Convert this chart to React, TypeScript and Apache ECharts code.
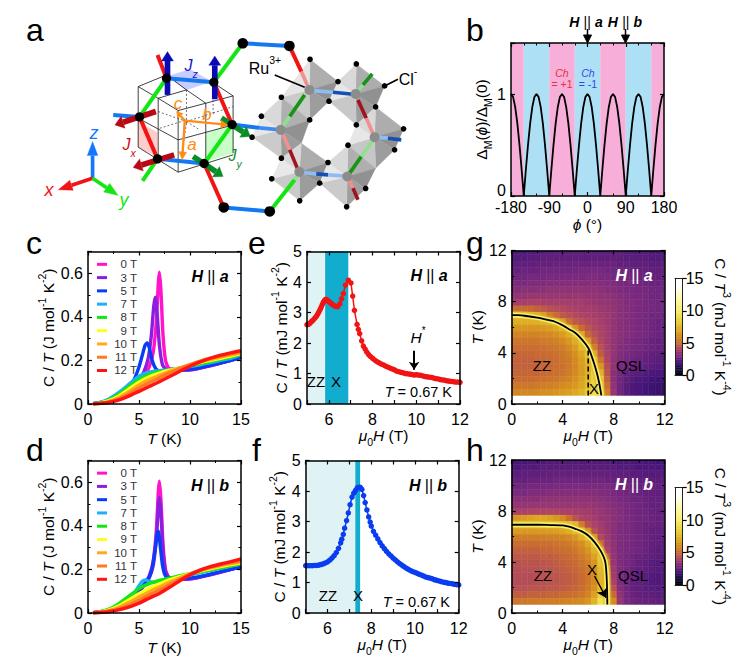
import { useEffect, useRef } from "react";
import * as echarts from "echarts";

const FONT = "Liberation Sans";

// panel b
const phiDeg = [-180,-175,-170,-165,-160,-155,-150,-145,-140,-135,-130,-125,-120,-115,-110,-105,-100,-95,-90,-85,-80,-75,-70,-65,-60,-55,-50,-45,-40,-35,-30,-25,-20,-15,-10,-5,0,5,10,15,20,25,30,35,40,45,50,55,60,65,70,75,80,85,90,95,100,105,110,115,120,125,130,135,140,145,150,155,160,165,170,175,180];
const gapRatio = [1,0.97,0.87,0.71,0.5,0.26,0,0.26,0.5,0.71,0.87,0.97,1,0.97,0.87,0.71,0.5,0.26,0,0.26,0.5,0.71,0.87,0.97,1,0.97,0.87,0.71,0.5,0.26,0,0.26,0.5,0.71,0.87,0.97,1,0.97,0.87,0.71,0.5,0.26,0,0.26,0.5,0.71,0.87,0.97,1,0.97,0.87,0.71,0.5,0.26,0,0.26,0.5,0.71,0.87,0.97,1,0.97,0.87,0.71,0.5,0.26,0,0.26,0.5,0.71,0.87,0.97,1];
const chernBands = [[-180,-150,"#f7aed8"],[-150,-90,"#aee0f5"],[-90,-30,"#f7aed8"],[-30,30,"#aee0f5"],[30,90,"#f7aed8"],[90,150,"#aee0f5"],[150,180,"#f7aed8"]];

// panels c, d
const fieldNames = ["0 T","3 T","5 T","7 T","8 T","9 T","10 T","11 T","12 T"];
const fieldColors = ["#ff14cc","#8a1fe0","#0a3cf5","#1eb0fa","#14e614","#ffff1e","#ffaa1e","#ff7828","#ff1414"];
const fanTemps = [0.5,1,2,3,4,5,6,7,8,9,10,11,12,13,14,15];

const t0a = [0.5,1,2,3,4,5,5.5,6,6.4,6.7,6.9,7,7.15,7.35,7.6,7.9,8.5,9,10,11,12,13,14,15];
const c0a = [0.001,0.004,0.012,0.03,0.06,0.1,0.13,0.17,0.24,0.38,0.56,0.605,0.52,0.32,0.2,0.165,0.157,0.155,0.156,0.165,0.175,0.188,0.2,0.215];
const t3a = [0.5,1,2,3,4,5,5.5,5.9,6.2,6.45,6.6,6.8,7,7.3,7.7,8.5,9,10,11,12,13,14,15];
const c3a = [0.001,0.004,0.013,0.032,0.062,0.11,0.15,0.21,0.31,0.45,0.49,0.4,0.27,0.18,0.158,0.155,0.155,0.157,0.165,0.176,0.188,0.2,0.215];
const t5a = [0.5,1,2,3,4,4.5,5,5.3,5.6,5.8,6,6.3,6.6,7,7.5,8.5,9,10,11,12,13,14,15];
const c5a = [0.001,0.005,0.016,0.04,0.075,0.11,0.17,0.22,0.27,0.28,0.26,0.2,0.165,0.15,0.15,0.155,0.157,0.16,0.167,0.177,0.189,0.2,0.215];
const c7a = [0.001,0.005,0.022,0.052,0.09,0.128,0.147,0.153,0.158,0.165,0.172,0.18,0.19,0.2,0.21,0.225];
const c8a = [0.001,0.004,0.018,0.044,0.08,0.113,0.135,0.148,0.156,0.165,0.175,0.185,0.195,0.205,0.215,0.228];
const c9a = [0.001,0.003,0.014,0.036,0.068,0.1,0.125,0.142,0.155,0.166,0.178,0.19,0.2,0.21,0.22,0.232];
const c10a = [0.001,0.002,0.011,0.029,0.056,0.087,0.112,0.132,0.15,0.166,0.18,0.194,0.205,0.215,0.226,0.236];
const c11a = [0.001,0.002,0.009,0.023,0.046,0.073,0.098,0.12,0.143,0.163,0.181,0.197,0.21,0.22,0.23,0.24];
const c12a = [0.001,0.002,0.007,0.018,0.036,0.058,0.08,0.102,0.126,0.15,0.173,0.193,0.21,0.224,0.235,0.245];

const t0b = [0.5,1,2,3,4,5,5.5,6,6.4,6.7,6.9,7,7.15,7.35,7.6,7.9,8.5,9,10,11,12,13,14,15];
const c0b = [0.001,0.004,0.012,0.03,0.06,0.1,0.13,0.17,0.24,0.38,0.56,0.605,0.52,0.32,0.2,0.165,0.157,0.155,0.156,0.165,0.175,0.188,0.2,0.212];
const t3b = [0.5,1,2,3,4,5,5.5,6,6.4,6.7,6.9,7,7.15,7.35,7.6,7.9,8.5,9,10,11,12,13,14,15];
const c3b = [0.001,0.004,0.012,0.03,0.06,0.1,0.125,0.16,0.22,0.34,0.49,0.53,0.46,0.29,0.19,0.165,0.157,0.155,0.157,0.165,0.176,0.188,0.2,0.213];
const t5b = [0.5,1,2,3,4,5,5.5,6,6.3,6.6,6.8,6.9,7.1,7.3,7.5,7.8,8.5,9,10,11,12,13,14,15];
const c5b = [0.001,0.004,0.013,0.032,0.065,0.105,0.13,0.165,0.21,0.3,0.37,0.375,0.3,0.22,0.18,0.16,0.157,0.157,0.16,0.168,0.178,0.19,0.2,0.214];
const t7b = [0.5,1,2,3,4,4.5,5,5.3,5.6,6,6.4,7,8,9,10,11,12,13,14,15];
const c7b = [0.001,0.004,0.012,0.03,0.065,0.09,0.125,0.145,0.152,0.145,0.141,0.145,0.155,0.165,0.175,0.185,0.195,0.205,0.215,0.226];
const c8b = [0.001,0.004,0.017,0.042,0.077,0.112,0.135,0.15,0.16,0.171,0.18,0.189,0.198,0.207,0.216,0.226];
const c9b = [0.001,0.003,0.013,0.032,0.06,0.088,0.113,0.134,0.152,0.167,0.18,0.192,0.203,0.213,0.222,0.23];
const c10b = [0.001,0.002,0.01,0.025,0.048,0.073,0.098,0.12,0.142,0.162,0.18,0.195,0.207,0.218,0.227,0.235];
const c11b = [0.001,0.002,0.008,0.019,0.036,0.058,0.083,0.105,0.13,0.155,0.178,0.197,0.21,0.222,0.232,0.24];
const c12b = [0.001,0.002,0.006,0.014,0.027,0.045,0.068,0.09,0.118,0.148,0.175,0.197,0.213,0.225,0.236,0.248];

// panel e
const fieldE = [5,5.05,5.1,5.15,5.2,5.25,5.3,5.35,5.4,5.45,5.5,5.55,5.6,5.65,5.7,5.75,5.8,5.85,5.9,5.95,6,6.05,6.1,6.15,6.2,6.3,6.4,6.5,6.58,6.66,6.76,6.89,7.01,7.09,7.17,7.29,7.35,7.41,7.5,7.58,7.66,7.74,7.82,7.9,8,8.1,8.2,8.3,8.4,8.5,8.6,8.7,8.8,8.9,9,9.1,9.2,9.3,9.4,9.5,9.6,9.7,9.8,9.9,10,10.1,10.2,10.3,10.4,10.5,10.6,10.7,10.8,10.9,11,11.1,11.2,11.3,11.4,11.5,11.6,11.7,11.8,11.9,12];
const heatE = [2.6,2.61,2.63,2.66,2.7,2.73,2.77,2.81,2.85,2.9,2.96,3.03,3.1,3.18,3.26,3.34,3.4,3.43,3.42,3.39,3.36,3.33,3.3,3.27,3.24,3.2,3.19,3.28,3.45,3.62,3.9,4.06,3.97,3.54,3.07,2.61,2.45,2.31,2.07,1.9,1.8,1.7,1.62,1.56,1.5,1.44,1.39,1.35,1.31,1.28,1.24,1.21,1.18,1.15,1.12,1.08,1.06,1.04,1.02,1,0.99,0.98,0.97,0.95,0.96,0.95,0.94,0.92,0.9,0.89,0.88,0.87,0.85,0.83,0.82,0.8,0.79,0.78,0.76,0.75,0.74,0.73,0.72,0.72,0.71];

// panel f
const fieldF = [5,5.1,5.2,5.3,5.4,5.5,5.6,5.7,5.8,5.9,6,6.1,6.2,6.3,6.4,6.5,6.6,6.65,6.72,6.78,6.87,6.95,7.03,7.12,7.2,7.28,7.36,7.43,7.5,7.57,7.65,7.72,7.8,7.88,7.95,8,8.1,8.2,8.3,8.4,8.5,8.6,8.7,8.8,8.9,9,9.1,9.2,9.3,9.4,9.5,9.6,9.7,9.8,9.9,10,10.1,10.2,10.3,10.4,10.5,10.6,10.7,10.8,10.9,11,11.1,11.2,11.3,11.4,11.5,11.6,11.7,11.8,11.9,12];
const heatF = [1.55,1.55,1.55,1.55,1.56,1.56,1.57,1.59,1.61,1.64,1.68,1.73,1.8,1.88,1.98,2.12,2.3,2.42,2.58,2.78,3.03,3.28,3.55,3.8,3.93,4.02,4.1,4.12,4.12,4.05,3.85,3.62,3.38,3.15,2.98,2.85,2.68,2.55,2.43,2.31,2.2,2.11,2.02,1.94,1.87,1.8,1.74,1.68,1.62,1.57,1.52,1.47,1.43,1.39,1.36,1.33,1.3,1.27,1.24,1.21,1.18,1.16,1.14,1.12,1.09,1.07,1.05,1.03,1.01,1,0.98,0.97,0.96,0.94,0.93,0.92];

// panels g, h: columns in tesla, rows in kelvin from the top down
const mapFields = [0,0.5,1,1.5,2,2.5,3,3.5,4,4.5,5,5.5,6,6.5,7,7.5,8,8.5,9,9.5,10,10.5,11,11.5,12];
const mapTemps = [11.92,11.42,10.92,10.42,9.92,9.42,8.92,8.42,7.92,7.42,6.92,6.42,5.92,5.42,4.92,4.42,3.92,3.42,2.92,2.42,1.92,1.42,0.92];
const mapA = [
[2.1,2.2,2.2,2.3,2.3,2.3,2.4,2.4,2.4,2.4,2.4,2.4,2.4,2.4,2.4,2.4,2.4,2.4,2.3,2.3,2.3,2.3,2.2,2.2,2.1],
[2.2,2.3,2.3,2.4,2.4,2.5,2.5,2.5,2.5,2.5,2.5,2.5,2.5,2.5,2.5,2.5,2.5,2.5,2.4,2.4,2.4,2.4,2.3,2.3,2.2],
[2.4,2.5,2.5,2.5,2.6,2.6,2.6,2.7,2.7,2.7,2.7,2.7,2.7,2.7,2.7,2.7,2.7,2.6,2.6,2.5,2.5,2.5,2.4,2.4,2.4],
[2.6,2.6,2.7,2.7,2.7,2.8,2.8,2.8,2.8,2.8,2.8,2.9,2.9,2.9,2.9,2.8,2.8,2.8,2.7,2.7,2.6,2.6,2.5,2.5,2.5],
[2.7,2.8,2.8,2.9,2.9,2.9,3,3,3,3,3,3,3.1,3.1,3,3,2.9,2.9,2.8,2.8,2.7,2.7,2.6,2.6,2.6],
[3,3,3,3.1,3.1,3.1,3.2,3.2,3.2,3.2,3.2,3.2,3.2,3.2,3.2,3.1,3.1,3,2.9,2.9,2.8,2.8,2.7,2.7,2.7],
[3.2,3.2,3.3,3.3,3.3,3.3,3.4,3.4,3.4,3.4,3.4,3.4,3.4,3.4,3.3,3.2,3.2,3.1,3,3,2.9,2.9,2.8,2.8,2.7],
[3.5,3.5,3.5,3.6,3.6,3.6,3.6,3.6,3.6,3.6,3.6,3.6,3.5,3.5,3.4,3.4,3.3,3.2,3.1,3,3,2.9,2.8,2.8,2.8],
[3.9,3.9,3.9,4,4,3.9,3.9,3.9,3.9,3.9,3.8,3.8,3.7,3.6,3.5,3.5,3.4,3.3,3.1,3.1,3,2.9,2.9,2.8,2.8],
[5,5,5,5,4.8,4.6,4.4,4.3,4.2,4.1,4,3.9,3.9,3.8,3.7,3.6,3.5,3.3,3.2,3.1,3,2.9,2.9,2.8,2.8],
[8.6,8.6,8.4,8,7.4,6.6,5.6,5,4.6,4.4,4.2,4.1,4,3.9,3.8,3.7,3.5,3.3,3.2,3.1,3,2.9,2.8,2.8,2.7],
[7.2,7.2,7.2,7.2,7.3,7.5,7.9,8.2,6.6,5.2,4.6,4.4,4.2,4.1,3.9,3.7,3.5,3.3,3.2,3.1,3,2.9,2.8,2.7,2.7],
[6.4,6.4,6.4,6.4,6.4,6.5,6.7,7,7.6,8.2,6.2,5,4.5,4.2,4,3.8,3.5,3.3,3.2,3.1,3,2.9,2.8,2.7,2.7],
[5.8,5.8,5.8,5.8,5.8,5.9,6,6.2,6.6,7.2,8.2,7,5,4.4,4.1,3.8,3.5,3.3,3.2,3.1,3,2.9,2.8,2.7,2.6],
[5.4,5.4,5.4,5.4,5.4,5.5,5.6,5.7,6,6.5,7.2,8.3,6.6,4.8,4.2,3.8,3.5,3.3,3.1,3,2.9,2.8,2.7,2.6,2.6],
[5.1,5.1,5.1,5.1,5.1,5.2,5.3,5.4,5.6,6,6.6,7.6,8.4,5.6,4.4,3.9,3.5,3.2,3.1,3,2.9,2.8,2.7,2.6,2.5],
[4.9,4.9,4.9,4.9,5,5,5.1,5.2,5.4,5.7,6.2,7,8.2,7,4.7,4,3.5,3.2,3,2.9,2.8,2.7,2.6,2.5,2.4],
[4.8,4.8,4.8,4.8,4.9,4.9,5,5.1,5.3,5.5,6,6.7,7.6,8.4,5.4,4.1,3.4,3.1,2.9,2.8,2.7,2.6,2.5,2.4,2.3],
[4.8,4.8,4.8,4.8,4.8,4.9,5,5.1,5.2,5.5,5.9,6.6,7.4,8.6,6.4,4.3,3.4,3,2.8,2.7,2.6,2.5,2.4,2.3,2.2],
[4.9,4.9,4.9,4.9,4.9,5,5.1,5.2,5.3,5.6,6,6.6,7.4,8.6,7.4,4.5,3.3,2.9,2.6,2.5,2.4,2.3,2.2,2.1,2],
[5,5,5,5,5.1,5.2,5.3,5.4,5.6,5.8,6.2,6.8,7.6,8.6,8.4,4.8,3.3,2.8,2.5,2.3,2.2,2.1,2,1.9,1.8],
[5.4,5.4,5.4,5.4,5.5,5.6,5.7,5.8,6,6.2,6.5,7,7.8,8.8,9,5.2,3.4,2.8,2.4,2.2,2.1,2,1.9,1.8,1.6],
[5.9,5.9,5.9,5.9,6,6.1,6.2,6.3,6.5,6.7,7,7.4,8.2,9.2,9.6,5.6,3.6,2.8,2.4,2.2,2.1,2,1.9,1.8,1.6],
];
const mapB = [
[2,2.1,2.1,2.2,2.2,2.2,2.3,2.3,2.3,2.3,2.3,2.3,2.3,2.3,2.3,2.3,2.2,2.2,2.2,2.2,2.1,2.1,2.1,2,2],
[2.2,2.2,2.3,2.3,2.3,2.4,2.4,2.4,2.4,2.4,2.4,2.4,2.4,2.4,2.4,2.4,2.4,2.3,2.3,2.3,2.2,2.2,2.2,2.1,2.1],
[2.4,2.4,2.5,2.5,2.5,2.5,2.6,2.6,2.6,2.6,2.6,2.6,2.6,2.6,2.6,2.6,2.5,2.5,2.5,2.4,2.4,2.3,2.3,2.3,2.2],
[2.6,2.6,2.6,2.7,2.7,2.7,2.7,2.8,2.8,2.8,2.8,2.8,2.8,2.8,2.8,2.7,2.7,2.7,2.6,2.6,2.5,2.5,2.4,2.4,2.4],
[2.8,2.8,2.8,2.9,2.9,2.9,2.9,3,3,3,3,3,3,3,3,3,2.9,2.8,2.8,2.7,2.6,2.6,2.5,2.5,2.5],
[3,3,3,3.1,3.1,3.1,3.2,3.2,3.2,3.2,3.2,3.2,3.2,3.2,3.1,3.1,3,2.9,2.8,2.8,2.7,2.6,2.6,2.5,2.5],
[3.3,3.3,3.3,3.3,3.3,3.4,3.4,3.4,3.4,3.4,3.4,3.4,3.4,3.3,3.3,3.2,3.1,3,2.9,2.8,2.8,2.7,2.6,2.6,2.5],
[3.5,3.5,3.5,3.6,3.6,3.6,3.6,3.6,3.6,3.6,3.6,3.6,3.6,3.5,3.4,3.3,3.2,3.1,3,2.9,2.8,2.7,2.6,2.6,2.6],
[4,4,4,4.1,4.1,4.1,4.1,4.1,4,4,3.9,3.9,3.8,3.7,3.6,3.4,3.3,3.2,3,2.9,2.8,2.8,2.7,2.6,2.6],
[6.2,6.4,6.6,6.8,7,7,6.8,6.4,6,5.2,4.4,4.1,4,3.8,3.6,3.5,3.3,3.2,3,2.9,2.8,2.8,2.7,2.6,2.6],
[8.4,8.6,8.8,8.8,8.8,8.8,8.8,8.8,8.8,8.6,7.6,5.6,4.4,4,3.8,3.5,3.3,3.1,3,2.9,2.8,2.7,2.7,2.6,2.6],
[6.6,6.6,6.5,6.5,6.5,6.5,6.6,6.7,6.9,7.2,8,8.6,6.2,4.4,3.9,3.6,3.3,3.1,3,2.9,2.8,2.7,2.6,2.6,2.5],
[5.6,5.6,5.6,5.6,5.6,5.6,5.7,5.7,5.8,6,6.4,7.2,8.4,6.2,4.2,3.7,3.3,3.1,3,2.9,2.8,2.7,2.6,2.5,2.5],
[5.1,5.1,5.1,5.1,5.1,5.2,5.2,5.3,5.4,5.5,5.8,6.2,7,8.4,5.2,3.8,3.4,3.1,3,2.9,2.8,2.7,2.6,2.5,2.4],
[4.8,4.8,4.8,4.8,4.8,4.9,4.9,5,5.1,5.2,5.4,5.8,6.4,7.4,7.4,4,3.4,3.1,3,2.9,2.8,2.7,2.5,2.4,2.4],
[4.6,4.6,4.6,4.6,4.6,4.7,4.7,4.8,4.9,5,5.2,5.5,6,6.8,8.2,4.6,3.5,3.1,2.9,2.8,2.7,2.6,2.5,2.4,2.3],
[4.4,4.4,4.5,4.5,4.5,4.5,4.6,4.7,4.8,4.9,5,5.3,5.7,6.4,8,5.6,3.6,3.1,2.9,2.8,2.6,2.5,2.4,2.3,2.3],
[4.3,4.3,4.4,4.4,4.4,4.5,4.5,4.6,4.7,4.8,4.9,5.1,5.5,6.2,7.6,6.4,3.7,3.1,2.9,2.7,2.6,2.5,2.4,2.3,2.2],
[4.3,4.3,4.3,4.3,4.4,4.4,4.5,4.5,4.6,4.7,4.8,5,5.4,6,7.4,7,3.8,3.1,2.8,2.7,2.5,2.4,2.3,2.2,2.2],
[4.3,4.3,4.3,4.3,4.4,4.4,4.5,4.5,4.6,4.7,4.8,5,5.4,6,7.4,7.4,4,3.1,2.8,2.6,2.5,2.4,2.3,2.2,2.2],
[4.4,4.4,4.4,4.5,4.5,4.5,4.6,4.6,4.7,4.8,4.9,5.1,5.5,6.2,7.8,8.4,4.4,3.2,2.8,2.6,2.5,2.4,2.4,2.3,2.3],
[4.7,4.7,4.7,4.8,4.8,4.8,4.9,4.9,5,5.1,5.2,5.4,5.8,6.8,8.6,9.2,5,3.4,2.9,2.7,2.6,2.5,2.5,2.4,2.4],
[5.4,5.4,5.4,5.5,5.5,5.5,5.6,5.6,5.7,5.8,5.9,6,6.4,7.4,9.4,10,6,3.6,3,2.8,2.7,2.6,2.6,2.5,2.5],
];
const edgeFieldA = [0,0.5,1,2,3,3.4,4,4.5,5,5.5,6,6.25,6.5,6.7,6.87,7.03];
const edgeTempA = [6.95,6.94,6.9,6.75,6.53,6.43,6.15,5.85,5.55,5.05,4.4,3.8,3.05,2.35,1.6,0.67];
const edgeFieldB = [0,1,2,3,4,4.5,5,5.5,6,6.5,7,7.33,7.45,7.5];
const edgeTempB = [6.92,6.92,6.92,6.9,6.87,6.77,6.6,6.4,6.08,5.56,4.83,4.05,2.74,0.67];
const heatColors = ["#000000","#140b3c","#431478","#7a2a7e","#ab4068","#c86a32","#d48a20","#dca820","#e4c430","#eeda48","#f6ec68","#faf48c","#fcf8b0","#fefcd8","#ffffff","#ffffff"];

// panel a: schematic drawn in 3x page units
const clDots = [[931,178],[1070,192],[1015,245],[1155,258],[845,292],[988,304],[1128,321],[785,349],[930,360],[1070,375],[1212,387],[757,412],[1045,436],[1185,450],[845,475],[985,488],[816,537],[960,550],[1098,566],[900,603],[1041,621]];
const ruSites = [[929,270],[1068,282],[843,390],[1125,412],[899,516],[1043,530]];
const octaHulls = [
  [[931,178],[1015,245],[988,304],[930,360],[845,292]],
  [[1070,192],[1155,258],[1128,321],[1070,375],[988,304],[1015,245]],
  [[845,292],[930,360],[905,430],[845,475],[757,412],[785,349]],
  [[1128,321],[1212,387],[1185,450],[1128,505],[1045,436],[1070,375]],
  [[905,430],[985,488],[960,550],[900,603],[816,537],[845,475]],
  [[1045,436],[1128,505],[1098,566],[1041,621],[960,550],[985,488]],
];
const bondsBlue = [[500,235,642,247],[729,130,869,138],[672,623,810,635],[340,345,419,351],[473,477,613,491],[697,374,780,384]];
const bondsGreen = [[642,247,729,130],[500,235,419,351],[473,477,428,543],[697,374,613,491],[810,635,885,540]];
const bondsRed = [[473,165,500,235],[642,247,697,374],[419,351,473,477],[613,491,672,623],[869,138,905,215]];
const bondsInside = [
  [780,384,843,390,"#3c8cf0"],[905,215,929,270,"#f09090"],[942,272,1000,277,"#90bcf5"],[1000,277,1060,283,"#1450b4"],
  [1075,300,1100,355,"#a01420"],[1100,355,1125,412,"#f09090"],[915,285,870,350,"#149614"],[870,350,843,390,"#90e090"],
  [850,405,870,450,"#f09090"],[870,450,895,510,"#a01420"],[910,518,950,522,"#90bcf5"],[950,522,985,525,"#1450b4"],[985,525,1030,528,"#90bcf5"],
  [1050,520,1085,470,"#149614"],[1085,470,1120,420,"#90e090"],[1043,530,1060,565,"#f09090"],[1060,565,1075,600,"#a01420"],
  [1125,412,1165,415,"#90bcf5"],[1165,415,1205,420,"#1450b4"],[1068,282,1090,255,"#90e090"],[1090,255,1118,222,"#149614"],[885,540,899,516,"#90e090"],
];
const cubeLines = [
  [415,260,500,225],[500,225,560,270],[415,260,475,295],[475,295,535,332],[535,332,618,310],[618,310,700,288],[700,288,635,245],[475,295,560,270],[560,270,618,310],
  [415,260,415,442],[535,332,535,517],[700,288,700,460],[475,295,475,475],[618,310,618,485],[415,442,535,517],[535,517,700,465],[415,355,535,420],[535,420,700,375],
];
const cubeDashed = [[560,270,560,370],[475,335,560,365],[560,365,700,320],[480,385,560,360],[560,365,600,390],[560,370,545,470],[640,300,640,345]];

const RICH: any = {
  n: { fontFamily: FONT, fontSize: 15.5, verticalAlign: "bottom", lineHeight: 20 },
  i: { fontFamily: FONT, fontSize: 15.5, fontStyle: "italic", verticalAlign: "bottom", lineHeight: 20 },
  s: { fontFamily: FONT, fontSize: 10.5, verticalAlign: "top", lineHeight: 20 },
  N: { fontFamily: FONT, fontSize: 15.5, verticalAlign: "top", lineHeight: 20 },
  I: { fontFamily: FONT, fontSize: 15.5, fontStyle: "italic", verticalAlign: "top", lineHeight: 20 },
  d: { fontFamily: FONT, fontSize: 10.5, verticalAlign: "bottom", lineHeight: 20 },
};
const FIELD_NAME = "{I|μ}{d|0}{I|H}{N| (T)}";
const HEAT_NAME = "{n|C / }{i|T}{n| (mJ mol}{s|-1}{n| K}{s|-2}{n|)}";
const SPEC_NAME = "{n|C / }{i|T}{n| (J mol}{s|-1}{n| K}{s|-2}{n|)}";
const TEMP_NAME = "{n|}{i|T}{n| (K)}";
const CBAR_NAME = "{n|C / }{i|T}{s|3}{n| (mJ mol}{s|-1}{n| K}{s|-4}{n|)}";

const xAxes: any[] = [];
const yAxes: any[] = [];
const grids: any[] = [];

type AxisCfg = { min: number; max: number; interval: number; minor?: number; name: string; gap: number; labels?: (v: number) => string };

function axisBase(cfg: AxisCfg, gridIndex: number, position: string, main: boolean, rotate?: number) {
  return {
    type: "value",
    gridIndex,
    position,
    min: cfg.min,
    max: cfg.max,
    interval: cfg.interval,
    z: 6,
    name: main ? cfg.name : "",
    nameLocation: "middle",
    nameGap: cfg.gap,
    nameRotate: rotate,
    nameTextStyle: { rich: RICH, color: "#000", fontFamily: FONT, fontSize: 15.5 },
    axisLine: { show: true, onZero: false, lineStyle: { color: "#000", width: 1.5 } },
    axisTick: { show: true, inside: true, length: 4, lineStyle: { color: "#000", width: 1.2 } },
    minorTick: { show: !!cfg.minor, splitNumber: cfg.minor || 2, length: 2.5, lineStyle: { color: "#000", width: 1 } },
    splitLine: { show: false },
    minorSplitLine: { show: false },
    axisLabel: {
      show: main,
      margin: 5,
      fontFamily: FONT,
      fontSize: 16,
      color: "#000",
      showMaxLabel: cfg.labels ? undefined : cfg.max % cfg.interval === 0,
      formatter: cfg.labels,
    },
  };
}

// every panel gets a closed frame: one labelled axis and one mirrored axis per direction
function addPanel(left: number, top: number, width: number, height: number, x: AxisCfg, y: AxisCfg) {
  const gridIndex = grids.length;
  grids.push({ left, top, width, height, containLabel: false });
  const xi = xAxes.length;
  const yi = yAxes.length;
  const xMain: any = axisBase(x, gridIndex, "bottom", true);
  xMain.axisLabel.margin = 7;
  xAxes.push(xMain, axisBase(x, gridIndex, "top", false));
  yAxes.push(axisBase(y, gridIndex, "left", true, 90), axisBase(y, gridIndex, "right", false));
  return { xAxisIndex: xi, yAxisIndex: yi };
}

function pairs(xs: number[], ys: number[]) {
  return xs.map((v, i) => [v, ys[i]]);
}

function cellItem(_: any, api: any) {
  const p0 = api.coord([api.value(0), api.value(3)]);
  const p1 = api.coord([api.value(1), api.value(2)]);
  const fill = api.visual("color");
  return {
    type: "rect",
    shape: { x: p0[0], y: p0[1], width: p1[0] - p0[0], height: p1[1] - p0[1] },
    style: { fill, stroke: fill, lineWidth: 0.5 },
  };
}

function mapCells(rows: number[][]) {
  const cells: number[][] = [];
  rows.forEach((row, r) => {
    row.forEach((v, c) => {
      const h = mapFields[c];
      const t = mapTemps[r];
      cells.push([Math.max(h - 0.25, 0), Math.min(h + 0.25, 12), t - 0.25, Math.min(t + 0.25, 12), v]);
    });
  });
  return cells;
}

function colorBarCells() {
  const cells: number[][] = [];
  for (let v = 0; v < 15; v += 0.25) cells.push([0, 1, v, v + 0.25, v + 0.125]);
  return cells;
}

function fanSeries(ax: any, lists: number[][][]) {
  return lists.map((pts, i) => ({
    ...ax,
    name: fieldNames[i],
    type: "line",
    data: pts,
    smooth: 0.2,
    showSymbol: false,
    z: 3,
    color: fieldColors[i],
    itemStyle: { color: fieldColors[i] },
    lineStyle: { color: fieldColors[i], width: 3.4 },
  }));
}

function fanLegend(top: number) {
  return {
    orient: "vertical",
    left: 97,
    top,
    padding: 0,
    itemGap: 0,
    itemWidth: 10,
    itemHeight: 3,
    icon: "rect",
    selectedMode: false,
    data: fieldNames,
    formatter: (n: string) => `{a|${n}}`,
    textStyle: {
      rich: { a: { width: 25, align: "right", fontFamily: FONT, fontSize: 11.5, color: "#333", height: 13.27, lineHeight: 13.27 } },
    },
  };
}

function bands(list: any[]) {
  return {
    silent: true,
    data: list.map((b) => [{ xAxis: b[0], itemStyle: { color: b[2], opacity: 1 } }, { xAxis: b[1] }]),
  };
}

function scanSeries(ax: any, xs: number[], ys: number[], color: string, band: any[]) {
  return {
    ...ax,
    type: "line",
    data: pairs(xs, ys),
    symbol: "circle",
    symbolSize: 5.5,
    z: 3,
    itemStyle: { color },
    lineStyle: { color, width: 1.5 },
    markArea: bands(band),
  };
}

function colorBar(top: number) {
  const gridIndex = grids.length;
  grids.push({ left: 675, top, width: 7.7, height: 97.4 });
  const xi = xAxes.length;
  const yi = yAxes.length;
  const frameX = (position: string) => ({
    type: "value", gridIndex, position, min: 0, max: 1, z: 6,
    axisLine: { show: true, onZero: false, lineStyle: { color: "#222", width: 1 } },
    axisTick: { show: false }, axisLabel: { show: false }, splitLine: { show: false },
  });
  xAxes.push(frameX("bottom"), frameX("top"));
  yAxes.push({
    type: "value", gridIndex, position: "right", min: 0, max: 15, interval: 5, z: 6,
    name: CBAR_NAME, nameLocation: "middle", nameRotate: -90, nameGap: 30,
    nameTextStyle: { rich: RICH, color: "#000", fontFamily: FONT, fontSize: 15.5 },
    axisLine: { show: true, onZero: false, lineStyle: { color: "#222", width: 1 } },
    axisTick: { show: true, length: 4, lineStyle: { color: "#000", width: 1.2 } },
    axisLabel: { margin: 3, fontFamily: FONT, fontSize: 16, color: "#000" },
    splitLine: { show: false },
  });
  yAxes.push({
    type: "value", gridIndex, position: "left", min: 0, max: 15, z: 6,
    axisLine: { show: true, onZero: false, lineStyle: { color: "#222", width: 1 } },
    axisTick: { show: false }, axisLabel: { show: false }, splitLine: { show: false },
  });
  return { xAxisIndex: xi, yAxisIndex: yi };
}

function heatSeries(ax: any, data: number[][]) {
  return { ...ax, type: "custom", renderItem: cellItem, data, clip: true, progressive: 0, z: 1, silent: true, encode: { x: [0, 1], y: [2, 3] } };
}

function edgeSeries(ax: any, fx: number[], ty: number[]) {
  const data = pairs(fx, ty);
  const line = (color: string, width: number, opacity: number, z: number) => ({
    ...ax, type: "line", data, smooth: 0.3, showSymbol: false, z,
    lineStyle: { color, width, opacity, cap: "butt" },
  });
  return [line("#e2b42c", 9, 0.5, 2), line("#f8ee6c", 5, 1, 2), line("#000000", 1.8, 1, 3)];
}

// graphic helpers
function txt(x: number, y: number, text: string, opts: any = {}) {
  return {
    type: "text", x, y, z: 100, silent: true,
    style: { text, fontFamily: FONT, fontSize: 15, fill: "#000", textAlign: "center", textVerticalAlign: "middle", ...opts },
  };
}
function boldTag(x: number, y: number, axis: string, fill: string, size = 16) {
  return txt(x, y, `{h|H} {m|||} {h|${axis}}`, {
    fill,
    rich: {
      h: { fontFamily: FONT, fontSize: size, fontWeight: "bold", fontStyle: "italic", fill },
      m: { fontFamily: FONT, fontSize: size, fill },
    },
  });
}
function panelLetter(x: number, y: number, text: string) {
  return txt(x, y, text, { fontSize: 32, textAlign: "left", textVerticalAlign: "bottom" });
}
function seg(s: number[], stroke: string, lineWidth: number, extra: any = {}) {
  return { type: "line", z: 100, silent: true, shape: { x1: s[0], y1: s[1], x2: s[2], y2: s[3] }, style: { stroke, lineWidth, ...extra } };
}
function poly(points: number[][], fill: string) {
  return { type: "polygon", z: 100, silent: true, shape: { points }, style: { fill, stroke: fill, lineWidth: 1 } };
}
function dot(x: number, y: number, r: number, fill = "#000") {
  return { type: "circle", z: 100, silent: true, shape: { cx: x, cy: y, r }, style: { fill } };
}
function arrow(x0: number, y0: number, x1: number, y1: number, color: string, w: number, hl: number, hw: number) {
  const d = Math.hypot(x1 - x0, y1 - y0);
  const ux = (x1 - x0) / d;
  const uy = (y1 - y0) / d;
  const bx = x1 - ux * hl;
  const by = y1 - uy * hl;
  return [
    seg([x0, y0, bx, by], color, w),
    poly([[x1, y1], [bx - uy * hw, by + ux * hw], [bx + uy * hw, by - ux * hw]], color),
  ];
}

// facets of one octahedron: lit from the upper left, darker towards the lower right
function octaFacets(center: number[], hull: number[][]) {
  return hull.map((p, i) => {
    const q = hull[(i + 1) % hull.length];
    const dx = (p[0] + q[0]) / 2 - center[0];
    const dy = (p[1] + q[1]) / 2 - center[1];
    const len = Math.hypot(dx, dy);
    const g = Math.round(188 - (42 * dx) / len - (14 * dy) / len);
    return poly([p, q, center], `rgb(${g},${g},${g})`);
  });
}

function schematic() {
  const kids: any[] = [];
  kids.push(poly([[502,230],[560,270],[635,245],[570,208]], "#c8ccff"));
  kids.push(poly([[415,365],[472,398],[472,470],[415,442]], "#ffcccc"));
  kids.push(poly([[618,400],[700,372],[700,460],[618,485]], "#c8ffc8"));
  cubeLines.forEach((s) => kids.push(seg(s, "#111", 2.4)));
  cubeDashed.forEach((s) => kids.push(seg(s, "#222", 2, { lineDash: [6, 6] })));
  octaHulls.forEach((hull, i) => kids.push(...octaFacets(ruSites[i], hull)));
  bondsBlue.forEach((s) => kids.push(seg(s, "#1478f0", 12)));
  bondsGreen.forEach((s) => kids.push(seg(s, "#14e614", 12)));
  bondsRed.forEach((s) => kids.push(seg(s, "#f01414", 12)));
  bondsInside.forEach((b) => kids.push(seg(b.slice(0, 4) as number[], b[4] as string, 11)));
  kids.push(...arrow(468, 335, 345, 375, "#b80a14", 17, 26, 19));
  kids.push(...arrow(523, 465, 400, 503, "#b80a14", 17, 26, 19));
  kids.push(...arrow(665, 355, 752, 410, "#0a8c28", 17, 26, 19));
  kids.push(...arrow(580, 470, 670, 530, "#0a8c28", 17, 26, 19));
  kids.push(...arrow(503, 285, 503, 155, "#0a0ab4", 17, 28, 18));
  kids.push(...arrow(645, 298, 645, 168, "#0a0ab4", 17, 28, 18));
  kids.push(...arrow(278, 535, 278, 425, "#1478ff", 11, 42, 16));
  kids.push(...arrow(278, 535, 175, 570, "#f01414", 11, 42, 16));
  kids.push(...arrow(278, 535, 355, 587, "#14e614", 11, 42, 16));
  kids.push(...arrow(555, 362, 530, 335, "#ff8c14", 7, 18, 11));
  kids.push(...arrow(555, 362, 685, 375, "#ff8c14", 7, 22, 12));
  kids.push(...arrow(555, 362, 547, 480, "#ff8c14", 7, 24, 12));
  kids.push(seg([825, 225, 915, 262], "#000", 5), seg([1155, 258, 1195, 238], "#000", 5));
  clDots.forEach(([x, y]) => kids.push(dot(x, y, 8.5)));
  ruSites.forEach((c) => kids.push(dot(c[0], c[1], 15, "#8c8c8c")));
  [[500,235],[642,247],[419,351],[697,374],[473,477],[613,491]].forEach(([x, y]) => kids.push(dot(x, y, 14)));
  [[729,130],[869,138],[672,623],[810,635]].forEach(([x, y]) => kids.push(dot(x, y, 16)));
  return { type: "group", z: 100, scaleX: 1 / 3, scaleY: 1 / 3, children: kids };
}

function subLabel(x: number, y: number, base: string, tail: string, fill: string, mode: "sup" | "sub") {
  return txt(x, y, `{b|${base}}{t|${tail}}`, {
    fill,
    rich: {
      b: { fontFamily: FONT, fontSize: 16, fontStyle: base === "Ru" || base === "Cl" ? "normal" : "italic", fill, verticalAlign: mode === "sup" ? "bottom" : "top", lineHeight: 22 },
      t: { fontFamily: FONT, fontSize: 10.5, fontStyle: mode === "sup" ? "normal" : "italic", fill, verticalAlign: mode === "sup" ? "top" : "bottom", lineHeight: 22 },
    },
  });
}

function buildOption() {
  grids.length = 0;
  xAxes.length = 0;
  yAxes.length = 0;

  const axB = addPanel(511, 43, 153, 153,
    { min: -180, max: 180, interval: 90, minor: 3, name: "{I|ϕ}{N| (°)}", gap: 18 },
    { min: 0, max: 1.5, interval: 1, name: "{N|Δ}{d|M}{N|(}{I|ϕ}{N|)/Δ}{d|M}{N|(0)}", gap: 14, labels: (v) => (v > 1 ? "" : String(v)) });
  xAxes[axB.xAxisIndex].axisLabel.margin = 3.5;
  yAxes[axB.yAxisIndex].axisLabel.verticalAlignMinLabel = "bottom";
  yAxes[axB.yAxisIndex].axisLabel.lineHeight = 12;
  const axC = addPanel(88, 251.5, 153, 152.5,
    { min: 0, max: 15, interval: 5, minor: 2, name: TEMP_NAME, gap: 22 },
    { min: 0, max: 0.7, interval: 0.2, minor: 2, name: SPEC_NAME, gap: 28 });
  const axD = addPanel(88, 460.5, 153, 152.5,
    { min: 0, max: 15, interval: 5, minor: 2, name: TEMP_NAME, gap: 22 },
    { min: 0, max: 0.7, interval: 0.2, minor: 2, name: SPEC_NAME, gap: 28 });
  const oddHidden = (v: number) => (v % 2 === 0 ? String(v) : "");
  const axE = addPanel(307, 251.5, 153, 152.5,
    { min: 5, max: 12, interval: 1, name: FIELD_NAME, gap: 22, labels: oddHidden },
    { min: 0, max: 5, interval: 1, name: HEAT_NAME, gap: 16 });
  const axF = addPanel(305.7, 460.5, 153, 152.5,
    { min: 5, max: 12, interval: 1, name: FIELD_NAME, gap: 22, labels: oddHidden },
    { min: 0, max: 5, interval: 1, name: HEAT_NAME, gap: 16 });
  const axG = addPanel(511.7, 250.5, 153, 153.5,
    { min: 0, max: 12, interval: 4, minor: 2, name: FIELD_NAME, gap: 22 },
    { min: 0, max: 12, interval: 4, minor: 2, name: TEMP_NAME, gap: 20 });
  const axH = addPanel(511.7, 460, 153, 153,
    { min: 0, max: 12, interval: 4, minor: 2, name: FIELD_NAME, gap: 22 },
    { min: 0, max: 12, interval: 4, minor: 2, name: TEMP_NAME, gap: 20 });
  const axBarG = colorBar(278.3);
  const axBarH = colorBar(487.7);

  const heat = [
    heatSeries(axG, mapCells(mapA)),
    heatSeries(axH, mapCells(mapB)),
    heatSeries(axBarG, colorBarCells()),
    heatSeries(axBarH, colorBarCells()),
  ];

  const fanA = [pairs(t0a, c0a), pairs(t3a, c3a), pairs(t5a, c5a), pairs(fanTemps, c7a), pairs(fanTemps, c8a), pairs(fanTemps, c9a), pairs(fanTemps, c10a), pairs(fanTemps, c11a), pairs(fanTemps, c12a)];
  const fanB = [pairs(t0b, c0b), pairs(t3b, c3b), pairs(t5b, c5b), pairs(t7b, c7b), pairs(fanTemps, c8b), pairs(fanTemps, c9b), pairs(fanTemps, c10b), pairs(fanTemps, c11b), pairs(fanTemps, c12b)];

  const series: any[] = [
    ...heat,
    {
      ...axB, type: "line", data: pairs(phiDeg, gapRatio), showSymbol: false, z: 3,
      lineStyle: { color: "#000", width: 1.8 }, markArea: bands(chernBands),
    },
    ...fanSeries(axC, fanA),
    ...fanSeries(axD, fanB),
    scanSeries(axE, fieldE, heatE, "#f01414", [[5, 5.83, "#dff2f4"], [5.83, 6.89, "#12acce"]]),
    scanSeries(axF, fieldF, heatF, "#0a3cf0", [[5, 7.27, "#dff2f4"], [7.27, 7.49, "#12acce"]]),
    ...edgeSeries(axG, edgeFieldA, edgeTempA),
    ...edgeSeries(axH, edgeFieldB, edgeTempB),
    {
      ...axG, type: "line", data: [[6, 0.67], [6, 4.4]], showSymbol: false, z: 3,
      lineStyle: { color: "#000", width: 1.6, type: [5, 3] },
    },
    {
      ...axH, type: "line", data: [], z: 3,
      markLine: {
        silent: true, symbol: ["none", "arrow"], symbolSize: 9, label: { show: false },
        lineStyle: { color: "#000", width: 1.4, type: "solid" },
        data: [[{ coord: [6.5, 2.9] }, { coord: [7.4, 1.2] }]],
      },
    },
    {
      ...axE, type: "line", data: [], z: 4,
      markLine: {
        silent: true, symbol: ["none", "arrow"], symbolSize: 8, label: { show: false },
        lineStyle: { color: "#000", width: 2, type: "solid" },
        data: [[{ coord: [9.9, 1.75] }, { coord: [9.9, 1.12] }]],
      },
    },
  ];

  const rich = {
    h: { fontFamily: FONT, fontSize: 15.5, fontStyle: "italic", verticalAlign: "bottom", lineHeight: 20 },
    t: { fontFamily: FONT, fontSize: 10, verticalAlign: "top", lineHeight: 20 },
  };

  const graphic = [
    schematic(),
    panelLetter(26, 46, "a"), panelLetter(466, 46, "b"), panelLetter(26, 259, "c"), panelLetter(26, 466, "d"),
    panelLetter(248, 259, "e"), panelLetter(252, 466, "f"), panelLetter(466, 259, "g"), panelLetter(466, 466, "h"),
    // panel a texts
    txt(94, 133, "z", { fontStyle: "italic", fontSize: 18, fill: "#1478ff" }),
    txt(49, 190, "x", { fontStyle: "italic", fontSize: 18, fill: "#f01414" }),
    txt(124, 200, "y", { fontStyle: "italic", fontSize: 18, fill: "#14e614" }),
    txt(178, 103, "c", { fontStyle: "italic", fontSize: 17, fill: "#ff8c14" }),
    txt(207, 114, "b", { fontStyle: "italic", fontSize: 17, fill: "#ff8c14" }),
    txt(192, 144, "a", { fontStyle: "italic", fontSize: 17, fill: "#ff8c14" }),
    subLabel(191, 68, "J", "z", "#1414c8", "sub"),
    subLabel(129, 147, "J", "x", "#c80a14", "sub"),
    subLabel(235, 158, "J", "y", "#0a8c28", "sub"),
    subLabel(265, 65, "Ru", "3+", "#000", "sup"),
    subLabel(408, 76, "Cl", "-", "#000", "sup"),
    // panel b texts
    boldTag(586, 22, "a", "#000", 14),
    boldTag(625, 22, "b", "#000", 14),
    seg([587.5, 29, 587.5, 37], "#000", 1.5),
    poly([[587.5, 43], [583.5, 35], [591.5, 35]], "#000"),
    seg([625.5, 29, 625.5, 37], "#000", 1.5),
    poly([[625.5, 43], [621.5, 35], [629.5, 35]], "#000"),
    txt(562, 73, "Ch", { fontStyle: "italic", fontSize: 10.5, fill: "#e8303c" }),
    txt(562, 84, "= +1", { fontSize: 10.5, fill: "#e8303c" }),
    txt(588, 73, "Ch", { fontStyle: "italic", fontSize: 10.5, fill: "#3344ee" }),
    txt(588, 84, "= -1", { fontSize: 10.5, fill: "#3344ee" }),
    // panel tags
    boldTag(210, 276, "a", "#000"), boldTag(210, 485, "b", "#000"),
    boldTag(429, 275, "a", "#000"), boldTag(428, 485, "b", "#000"),
    boldTag(634, 275, "a", "#fff"), boldTag(634, 484, "b", "#fff"),
    // panel e
    txt(316, 381, "ZZ"), txt(336, 381, "X"),
    txt(452, 392, "{h|T} = 0.67 K", { textAlign: "right", fontSize: 14.5, rich: { h: { fontFamily: FONT, fontSize: 14.5, fontStyle: "italic" } } }),
    txt(418, 335, "{h|H}{t|*}", { rich }),
    // panel f
    txt(328, 595, "ZZ"), txt(358, 595, "X"),
    txt(450, 602, "{h|T} = 0.67 K", { textAlign: "right", fontSize: 14.5, rich: { h: { fontFamily: FONT, fontSize: 14.5, fontStyle: "italic" } } }),
    // panels g, h
    txt(542, 365, "ZZ"), txt(631, 365, "QSL"), txt(594, 388, "X"),
    txt(543, 575, "ZZ"), txt(633, 575, "QSL"), txt(592, 569, "X"),
  ];

  return {
    animation: false,
    backgroundColor: "#fff",
    textStyle: { fontFamily: FONT },
    grid: grids,
    xAxis: xAxes,
    yAxis: yAxes,
    legend: [fanLegend(257.7), fanLegend(466.5)],
    visualMap: {
      show: false,
      type: "continuous",
      seriesIndex: [0, 1, 2, 3],
      dimension: 4,
      min: 0,
      max: 15,
      inRange: { color: heatColors },
    },
    series,
    graphic: { elements: graphic },
  };
}

export default function App() {
  const chartRef = useRef<HTMLDivElement>(null);

  useEffect(() => {
    if (!chartRef.current) return;
    document.body.style.margin = "0";
    const chart = echarts.init(chartRef.current, undefined, { renderer: "svg" });
    chart.setOption(buildOption() as any);
    return () => {
      chart.dispose();
    };
  }, []);

  return <div ref={chartRef} style={{ width: 747, height: 667 }} />;
}
